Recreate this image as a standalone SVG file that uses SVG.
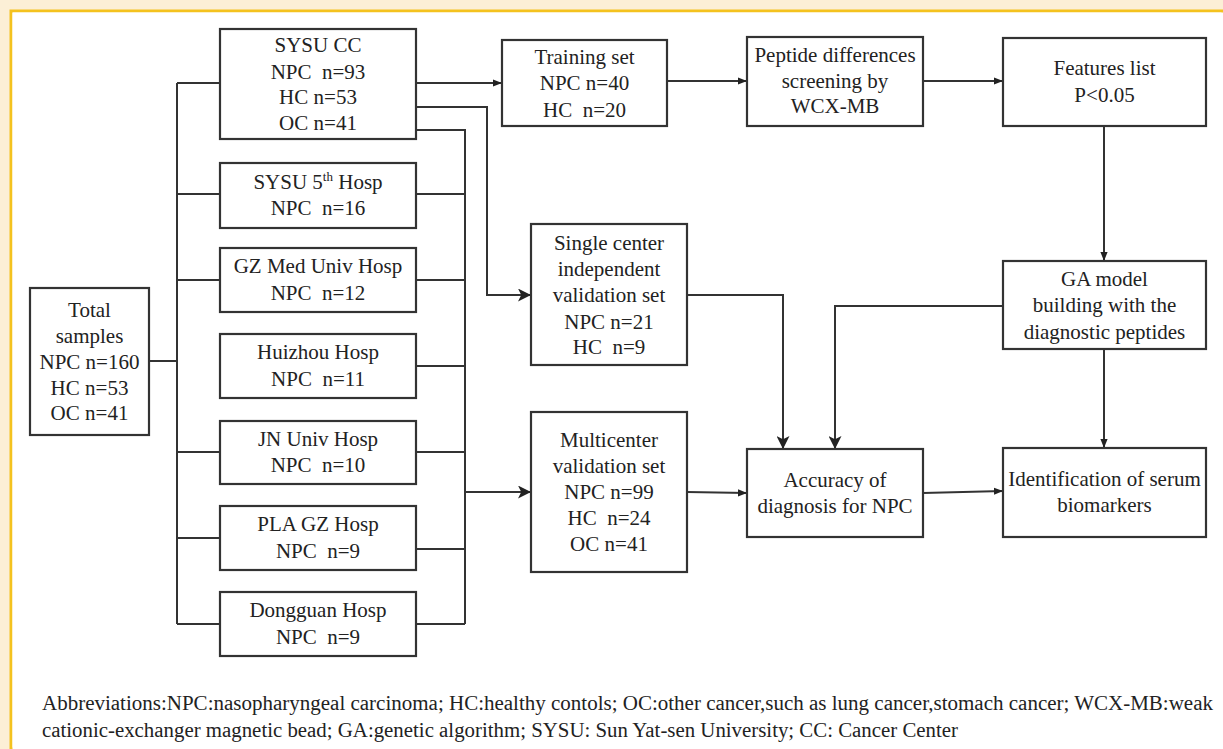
<svg xmlns="http://www.w3.org/2000/svg" width="1223" height="749" viewBox="0 0 1223 749">
<style>
.box{fill:#fff;stroke:#333;stroke-width:2.2}
.t{font-family:"Liberation Serif","Times New Roman",serif;font-size:21px;fill:#222;text-anchor:middle}
.ab{font-family:"Liberation Serif","Times New Roman",serif;font-size:20px;fill:#222}
.c{fill:none;stroke:#333;stroke-width:2}
.s{marker-end:url(#sm)}
.l{marker-end:url(#lg)}
</style>
<defs>
<marker id="sm" viewBox="0 0 10 8" markerUnits="userSpaceOnUse" markerWidth="9" markerHeight="8" refX="10" refY="4" orient="auto"><path d="M0,0 L10,4 L0,8 z" fill="#222"/></marker>
<marker id="lg" viewBox="0 0 12 12" markerUnits="userSpaceOnUse" markerWidth="13" markerHeight="13" refX="12" refY="6" orient="auto"><path d="M0,0 L12,6 L0,12 L3,6 z" fill="#222"/></marker>
</defs>
<rect x="0" y="0" width="1223" height="749" fill="#fcefd6"/>
<rect x="11" y="11" width="1212" height="738" fill="#fff" stroke="#f4c21f" stroke-width="3"/>
<rect x="12.5" y="12.5" width="1211" height="737" fill="#fff"/>

<g id="connectors">
<path class="c" d="M149,361 H177"/>
<path class="c" d="M177,83 V624"/>
<path class="c" d="M177,83 H220 M177,194 H220 M177,280 H220 M177,452 H220 M177,538 H220 M177,624 H220"/>
<path class="c" d="M416,130 H465 V624 M416,194 H465 M416,280 H465 M416,366 H465 M416,452 H465 M416,549 H465 M416,624 H465"/>
<path class="c l" d="M465,492 H531"/>
<path class="c l" d="M414,107 H487 V295 H531"/>
<path class="c s" d="M416,83 H502"/>
<path class="c s" d="M667,81 H747"/>
<path class="c s" d="M923,81 H1003"/>
<path class="c s" d="M1104,126 V261"/>
<path class="c l" d="M687,295 H783 V449"/>
<path class="c l" d="M1003,306 H835 V449"/>
<path class="c s" d="M1104,349 V448"/>
<path class="c s" d="M687,492 L747,493"/>
<path class="c s" d="M923,493 L1003,491"/>
</g>

<g id="total">
<rect class="box" x="30" y="288" width="119" height="147"/>
<text class="t" x="89.5" y="317">Total</text>
<text class="t" x="89.5" y="343">samples</text>
<text class="t" x="89.5" y="369">NPC n=160</text>
<text class="t" x="89.5" y="395">HC n=53</text>
<text class="t" x="89.5" y="420">OC n=41</text>
</g>

<g id="sysucc">
<rect class="box" x="220" y="29" width="196" height="110"/>
<text class="t" x="318" y="52">SYSU CC</text>
<text class="t" x="318" y="79" xml:space="preserve">NPC  n=93</text>
<text class="t" x="318" y="104">HC n=53</text>
<text class="t" x="318" y="130">OC n=41</text>
</g>

<g id="sysu5">
<rect class="box" x="220" y="163" width="196" height="65"/>
<text class="t" x="318" y="189">SYSU 5<tspan font-size="13" dy="-8">th</tspan><tspan dy="8"> Hosp</tspan></text>
<text class="t" x="318" y="215" xml:space="preserve">NPC  n=16</text>
</g>

<g id="gzmed">
<rect class="box" x="220" y="248" width="196" height="64"/>
<text class="t" x="318" y="273">GZ Med Univ Hosp</text>
<text class="t" x="318" y="300" xml:space="preserve">NPC  n=12</text>
</g>

<g id="huizhou">
<rect class="box" x="220" y="334" width="196" height="64"/>
<text class="t" x="318" y="359">Huizhou Hosp</text>
<text class="t" x="318" y="386" xml:space="preserve">NPC  n=11</text>
</g>

<g id="jn">
<rect class="box" x="220" y="421" width="196" height="63"/>
<text class="t" x="318" y="446">JN Univ Hosp</text>
<text class="t" x="318" y="472" xml:space="preserve">NPC  n=10</text>
</g>

<g id="pla">
<rect class="box" x="220" y="506" width="196" height="64"/>
<text class="t" x="318" y="531">PLA GZ Hosp</text>
<text class="t" x="318" y="558" xml:space="preserve">NPC  n=9</text>
</g>

<g id="dongguan">
<rect class="box" x="220" y="592" width="196" height="64"/>
<text class="t" x="318" y="617">Dongguan Hosp</text>
<text class="t" x="318" y="644" xml:space="preserve">NPC  n=9</text>
</g>

<g id="training">
<rect class="box" x="502" y="40" width="165" height="86"/>
<text class="t" x="584.5" y="64">Training set</text>
<text class="t" x="584.5" y="90">NPC n=40</text>
<text class="t" x="584.5" y="117" xml:space="preserve">HC  n=20</text>
</g>

<g id="single">
<rect class="box" x="531" y="224" width="156" height="141"/>
<text class="t" x="609" y="250">Single center</text>
<text class="t" x="609" y="276">independent</text>
<text class="t" x="609" y="302">validation set</text>
<text class="t" x="609" y="329">NPC n=21</text>
<text class="t" x="609" y="354" xml:space="preserve">HC  n=9</text>
</g>

<g id="multi">
<rect class="box" x="531" y="412" width="156" height="160"/>
<text class="t" x="609" y="447">Multicenter</text>
<text class="t" x="609" y="473">validation set</text>
<text class="t" x="609" y="499">NPC n=99</text>
<text class="t" x="609" y="525" xml:space="preserve">HC  n=24</text>
<text class="t" x="609" y="551">OC n=41</text>
</g>

<g id="peptide">
<rect class="box" x="747" y="37" width="176" height="89"/>
<text class="t" x="835" y="62">Peptide differences</text>
<text class="t" x="835" y="88">screening by</text>
<text class="t" x="835" y="113">WCX-MB</text>
</g>

<g id="features">
<rect class="box" x="1003" y="38" width="203" height="88"/>
<text class="t" x="1104.5" y="75">Features list</text>
<text class="t" x="1104.5" y="102">P&lt;0.05</text>
</g>

<g id="ga">
<rect class="box" x="1003" y="261" width="203" height="88"/>
<text class="t" x="1104.5" y="286">GA model</text>
<text class="t" x="1104.5" y="312">building with the</text>
<text class="t" x="1104.5" y="339">diagnostic peptides</text>
</g>

<g id="accuracy">
<rect class="box" x="747" y="449" width="176" height="88"/>
<text class="t" x="835" y="487">Accuracy of</text>
<text class="t" x="835" y="513">diagnosis for NPC</text>
</g>

<g id="identification">
<rect class="box" x="1003" y="448" width="203" height="89"/>
<text class="t" x="1104.5" y="486">Identification of serum</text>
<text class="t" x="1104.5" y="512">biomarkers</text>
</g>

<g id="abbreviations">
<text class="ab" x="42" y="710" textLength="1171" lengthAdjust="spacingAndGlyphs">Abbreviations:NPC:nasopharyngeal carcinoma; HC:healthy contols; OC:other cancer,such as lung cancer,stomach cancer; WCX-MB:weak</text>
<text class="ab" x="42" y="737" textLength="916" lengthAdjust="spacingAndGlyphs">cationic-exchanger magnetic bead; GA:genetic algorithm; SYSU: Sun Yat-sen University; CC: Cancer Center</text>
</g>
</svg>
